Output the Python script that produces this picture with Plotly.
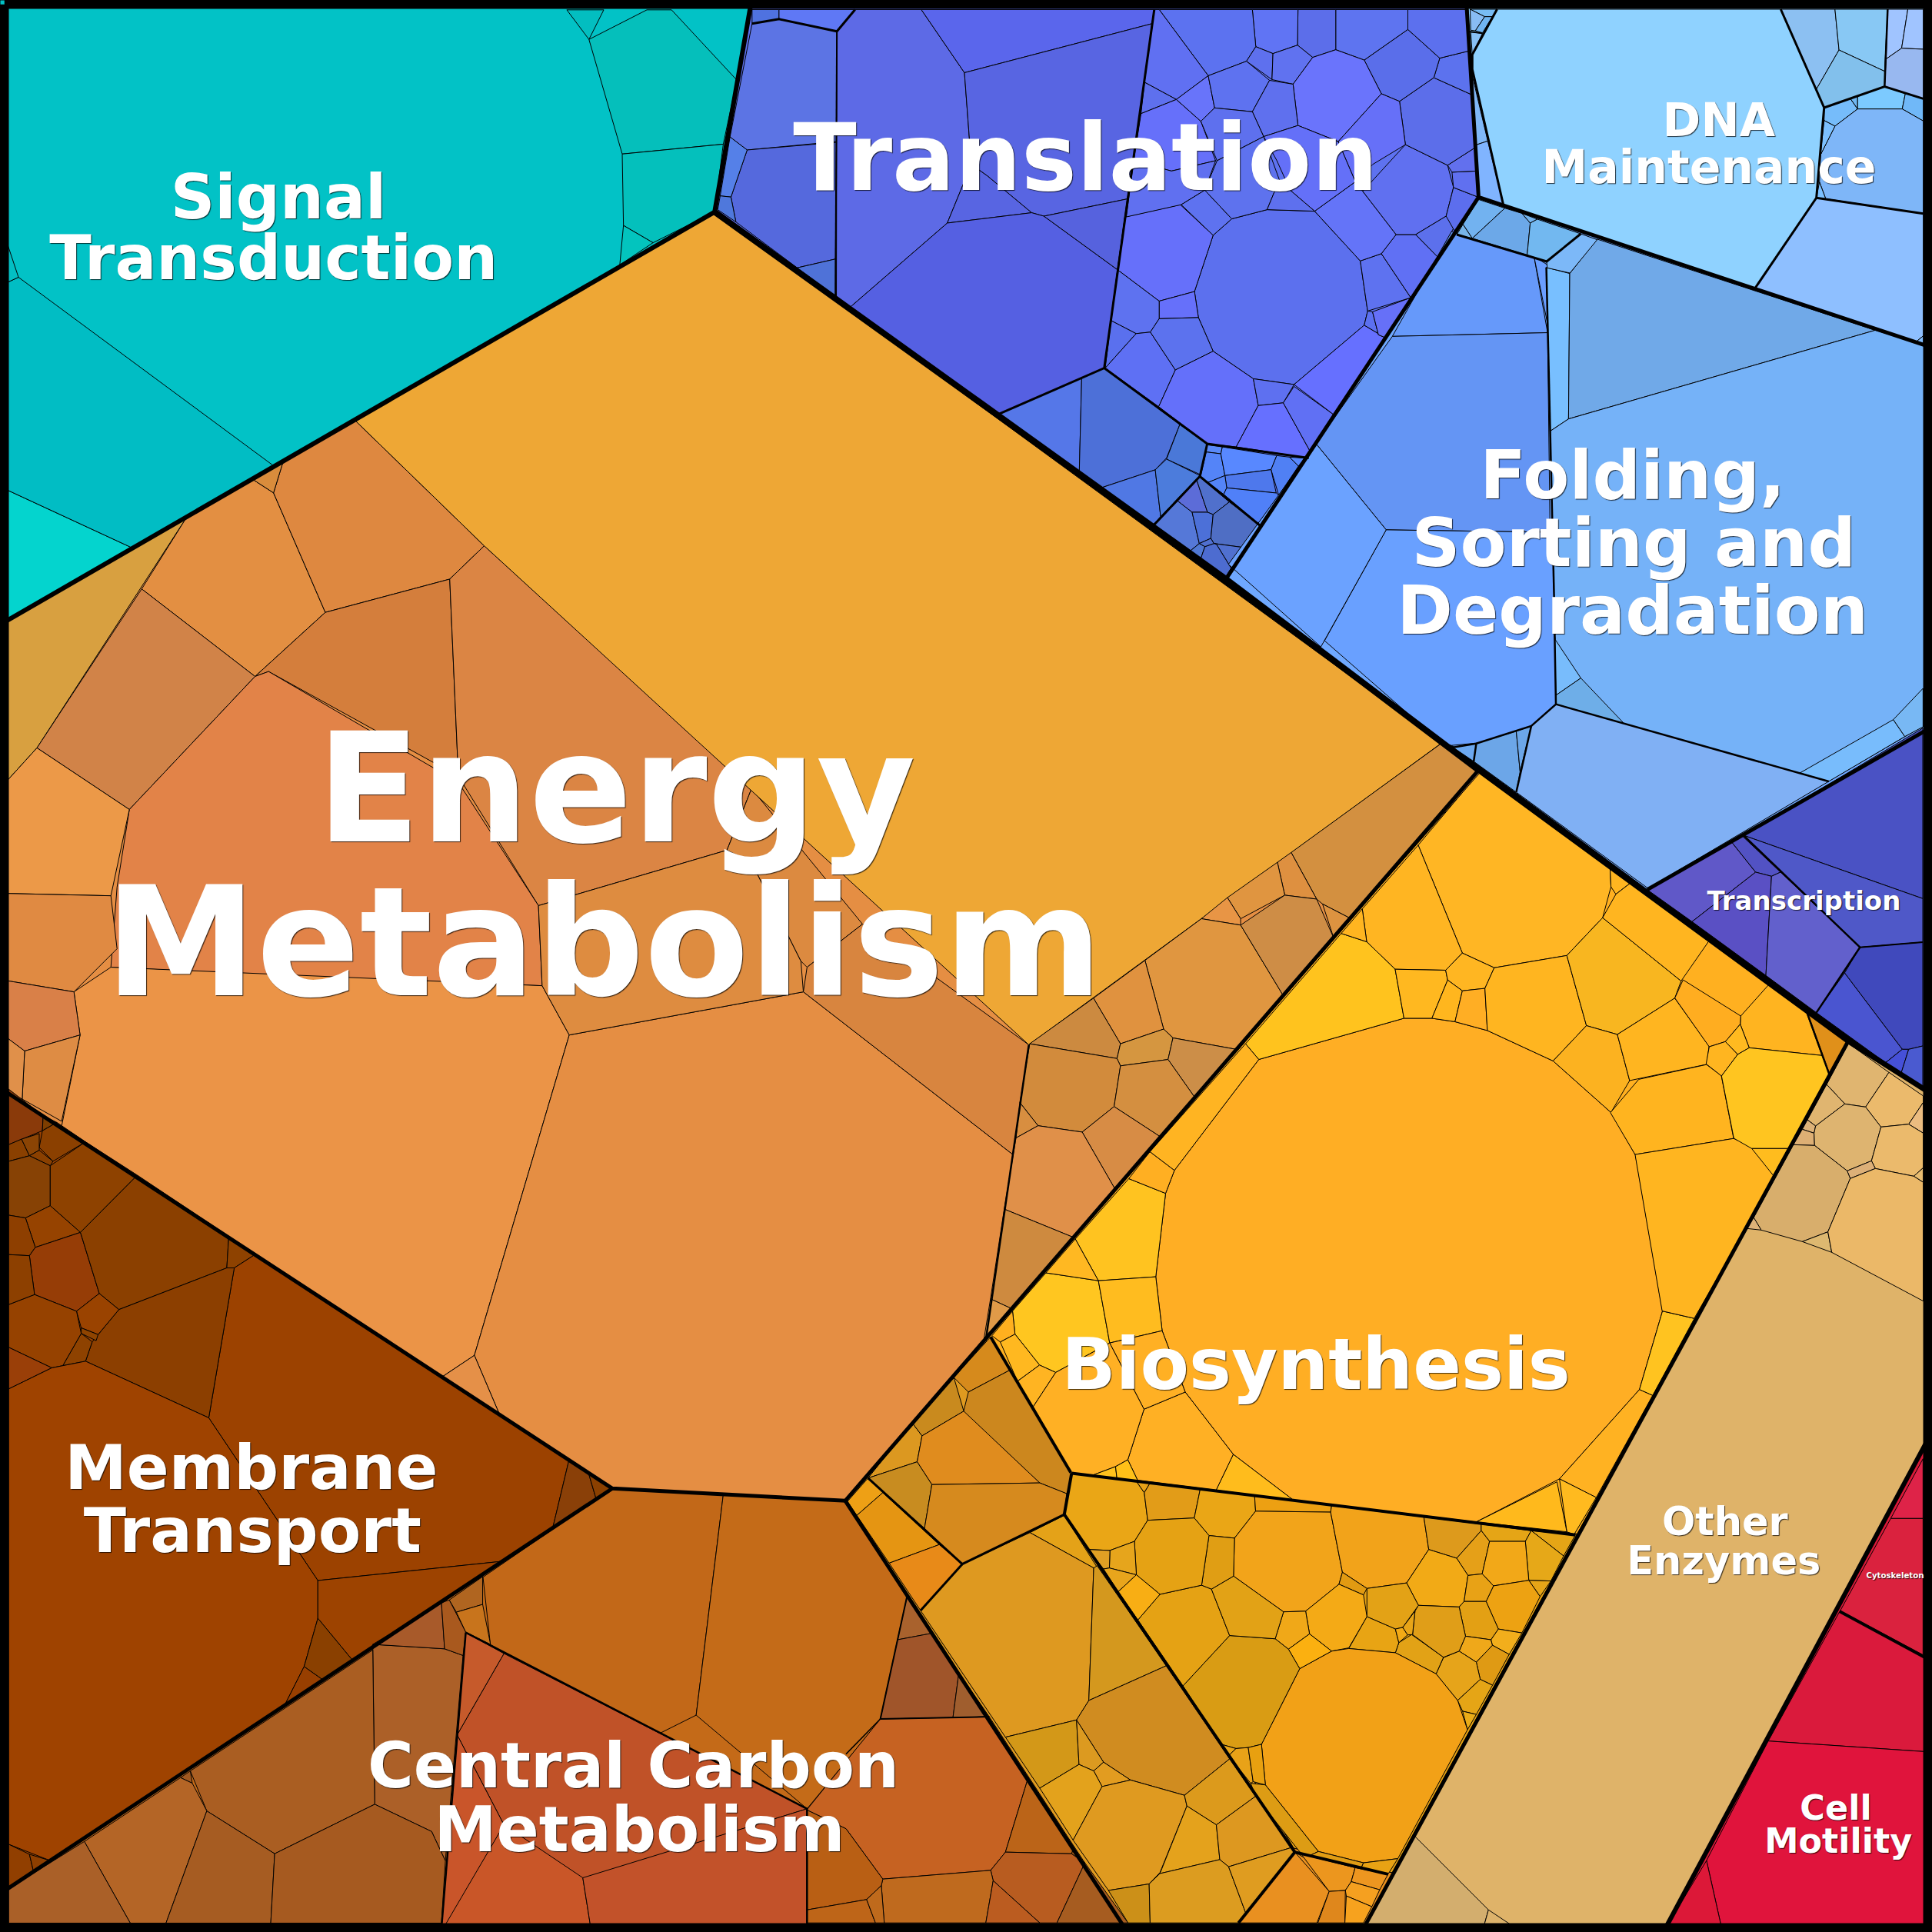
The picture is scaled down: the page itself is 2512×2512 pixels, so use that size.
import plotly.graph_objects as go

SIZE = 2512
# picture regions the vertices were read in: (left, top, width, height, drawn width, drawn height)
REGIONS = {
    "full": (0, 0, 2512, 2512, 1568, 1568),
    "z1": (930, 0, 1000, 780, 1568, 1568),
    "z2": (1880, 0, 632, 500, 1568, 1500),
    "z3": (1100, 1850, 1000, 662, 1568, 1568),
    "z4": (0, 1380, 800, 1132, 1568, 1568),
    "z5": (1240, 1000, 1000, 1000, 1568, 1568),
    "z6": (1300, 540, 450, 260, 1350, 780),
    "z7": (2240, 1300, 272, 400, 816, 1200),
    "z8": (2320, 1860, 192, 300, 576, 900),
    "z9": (1860, 780, 652, 400, 1568, 1200),
    "z10": (2120, 930, 392, 500, 1176, 1500),
    "z11": (2130, 1250, 300, 300, 900, 900),
}

base_regions = [
    ("#02C2C6", [0,0,610,0,580,172,0,507]),
    ("#5E72F0", [610,0,1190,0,1200,160,995,470,580,172]),
    ("#8FD2FF", [1190,0,1568,0,1568,282,1200,160]),
    ("#6FA8FF", [1200,160,1568,282,1568,590,1337,722,995,470]),
    ("#4C55C8", [1337,722,1568,590,1568,888]),
    ("#E58E43", [580,172,1200,625,686,1218,497,1208,0,883,0,507]),
    ("#FFB020", [1200,625,1500,845,1280,1245,870,1195,800,1088]),
    ("#DFB369", [1500,845,1568,888,1568,1162,1350,1568,1105,1568]),
    ("#DC1838", [1568,1162,1568,1568,1350,1568]),
    ("#9C4200", [0,883,497,1208,0,1537]),
    ("#C46A18", [497,1208,686,1218,915,1568,0,1568,0,1537]),
    ("#DF9A20", [686,1218,800,1088,870,1195,1050,1500,1005,1568,915,1568]),
    ("#E5A114", [870,1195,1280,1245,1130,1520,1050,1500]),
    ("#E99020", [1050,1500,1130,1520,1105,1568,1005,1568]),
]

signal_cells = [
    ("#05BFBB", [478,32,525,8,545,8,598,65,587,117,505,125]),
    ("#03BEC0", [460,8,490,8,478,32]),
    ("#04C0BC", [505,125,587,117,580,172,530,197,506,183]),
    ("#03C4BE", [506,183,530,197,503,215]),
    ("#04D4CE", [0,395,108,445,0,507]),
    ("#01BDC4", [0,232,15,225,222,378,108,445,0,395]),
    ("#03BFC3", [0,180,15,225,0,232]),
]

translation_cells = [
    ("#5C74E4", [75,62,130,50,248,82,247,370,65,392,30,358]),
    ("#5569DD", [65,392,247,372,245,677,167,700,42,580,32,515]),
    ("#4F72D8", [167,700,245,677,245,775]),
    ("#5580E8", [30,358,65,392,32,515,10,512]),
    ("#4F78DC", [10,512,32,515,42,580,5,548]),
    ("#4F72E0", [75,25,130,25,130,50,75,62]),
    ("#5F78F5", [130,25,285,25,248,82,130,50]),
    ("#5D6AE6", [285,25,420,25,508,190,522,430,473,583,275,803,247,775,248,82]),
    ("#5A66EC", [420,25,895,25,890,62,508,190]),
    ("#5865E2", [508,190,890,62,868,300,840,520,670,565,645,556,555,460,522,430]),
    ("#5865E2", [555,460,645,556,473,583,522,430]),
    ("#5560E2", [473,583,645,556,670,565,820,705,793,962,577,1083,275,803]),
    ("#5662DE", [670,565,840,520,820,705]),
    ("#5C70EE", [1015,615,1053,572,1125,548,1222,552,1315,682,1330,813,1323,850,1180,1005,1097,990,1015,918,985,830,977,762]),
    ("#6670FA", [820,705,835,567,948,535,1015,615,977,762,905,787]),
    ("#6670FA", [905,787,977,762,985,830,905,833]),
    ("#5E72F0", [820,705,905,787,905,833,887,868,858,872,807,838]),
    ("#5A70EE", [807,838,858,872,795,962]),
    ("#5E70F4", [795,962,858,872,887,868,938,967,904,1063]),
    ("#5C72EE", [887,868,905,833,985,830,1015,918,938,967]),
    ("#6470FA", [938,967,1015,918,1097,990,1107,1060,1062,1168,1003,1160,904,1063]),
    ("#5E70F0", [1097,990,1180,1005,1158,1053,1107,1060]),
    ("#6670FF", [1107,1060,1158,1053,1212,1178,1210,1197,1062,1168]),
    ("#6070F4", [1158,1053,1180,1010,1260,1083,1212,1178]),
    ("#6670FF", [1180,1005,1323,850,1365,882,1260,1083]),
    ("#5C70F0", [1323,850,1330,813,1340,815,1352,875,1365,882]),
    ("#6670F8", [1340,815,1418,778,1365,882,1352,875]),
    ("#5E72F0", [1315,682,1358,663,1418,778,1330,813]),
    ("#6070F4", [1358,663,1388,613,1428,613,1473,672,1418,778]),
    ("#6474F8", [1222,552,1305,475,1320,500,1388,613,1358,663,1315,682]),
    ("#6070F0", [1320,500,1407,378,1493,432,1505,490,1490,565,1428,613,1388,613]),
    ("#5C70EC", [1428,613,1490,565,1510,585,1473,672]),
    ("#5C6EEE", [1490,565,1505,490,1555,515,1510,610]),
    ("#6070F0", [1505,490,1502,450,1552,447,1555,515]),
    ("#6270EE", [1493,432,1550,385,1552,447,1502,450]),
    ("#5C6EEA", [1407,378,1395,265,1465,203,1543,248,1550,385,1493,432]),
    ("#5C72EE", [1465,203,1477,152,1537,133,1543,248]),
    ("#5A6EEA", [1412,77,1477,152,1465,203,1395,265,1358,245,1323,157]),
    ("#5C70EE", [1412,25,1535,25,1537,133,1477,152,1412,77]),
    ("#5E74F0", [1265,25,1412,25,1412,77,1323,157,1265,130]),
    ("#5C6EEA", [1188,25,1265,25,1265,130,1218,150,1187,118]),
    ("#6074F4", [1095,25,1188,25,1187,118,1137,140,1102,122]),
    ("#5C72F0", [905,25,1095,25,1102,122,1083,160,1005,198]),
    ("#6070F2", [895,25,905,25,1005,198,940,260,875,215]),
    ("#5E70EE", [875,215,940,260,868,297]),
    ("#6670FA", [868,297,940,260,990,317,1020,420,930,447,853,420]),
    ("#6874FA", [940,260,1005,198,1018,282,990,317]),
    ("#5E72F0", [1005,198,1083,160,1130,210,1095,292,1018,282]),
    ("#5E70EE", [1083,160,1102,122,1137,140,1135,208]),
    ("#6072F0", [1137,140,1187,118,1218,150,1178,220,1135,208]),
    ("#6A74FC", [1218,150,1265,130,1323,157,1358,245,1270,370,1188,328,1178,220]),
    ("#5F70EE", [1130,210,1178,220,1188,328,1118,357,1095,292]),
    ("#6670F8", [1358,245,1395,265,1407,378,1340,430,1305,475,1270,370]),
    ("#5E70EE", [990,317,1018,282,1095,292,1118,357,1023,420]),
    ("#6470F8", [1118,357,1188,328,1270,370,1305,475,1222,552,1172,497,1145,420]),
    ("#6070F0", [930,447,1020,420,998,497,950,535,838,567,853,420]),
    ("#5E72F0", [950,535,998,497,1053,572,1015,615]),
    ("#5E72EE", [998,497,1023,420,1118,357,1150,470,1125,548,1053,572]),
    ("#5E70EE", [1150,470,1172,497,1222,552,1125,548]),
    ("#5577E8", [577,1083,747,988,742,1240]),
    ("#4D70D8", [747,988,793,962,947,1110,920,1197,897,1228,782,1277,742,1240]),
    ("#4A78D8", [947,1110,1003,1160,988,1240,920,1200]),
    ("#5078E4", [782,1277,897,1228,908,1350,888,1378]),
    ("#4C7CDC", [897,1228,920,1200,988,1243,908,1350]),
]

translation_small_cells = [
    ("#5A8AF8", [808,115,868,123,862,150,805,143]),
    ("#5484F8", [805,143,862,150,878,235,812,262,783,238]),
    ("#5888FF", [868,123,1080,157,1058,212,878,235,862,150]),
    ("#5080F4", [1080,157,1130,163,1165,198,1088,312,1058,212]),
    ("#5888FF", [1130,163,1190,167,1165,198]),
    ("#4E78EC", [878,235,1058,212,1078,303,885,283]),
    ("#5484F8", [812,262,878,235,885,283,873,308]),
    ("#5080F8", [885,283,1078,303,1088,312,1015,428,873,308]),
    ("#5C6CD8", [692,333,767,250,810,378,750,378]),
    ("#5070CC", [767,250,778,240,895,338,832,387,810,378]),
    ("#5578D8", [592,432,692,333,750,378,778,500,733,537]),
    ("#4C70D8", [750,378,810,378,832,387,823,480,778,500]),
    ("#4F6EC4", [832,387,895,338,1015,428,955,516,835,500,823,480]),
    ("#5070D0", [835,500,955,516,902,596,845,503]),
    ("#5078D4", [733,537,778,500,800,512,780,570]),
    ("#4D6CD0", [780,570,800,512,835,500,845,503,902,596,875,640]),
    ("#5070D0", [778,500,823,480,835,500,800,512]),
]

dna_cells = [
    ("#8FD2FF", [165,36,1080,36,1195,348,1220,420,1195,772,995,1128,185,798,85,270,85,213]),
    ("#8CC0F2", [1080,36,1255,36,1268,195,1195,348]),
    ("#88C8F4", [1255,36,1425,36,1415,278,1268,195]),
    ("#82C0EC", [1268,195,1415,278,1415,338,1220,420,1195,348]),
    ("#A0C4FF", [1425,36,1490,36,1470,188,1420,230]),
    ("#A0C4FF", [1490,36,1540,36,1540,192,1470,188]),
    ("#98B8F0", [1420,230,1470,188,1540,192,1540,385,1415,338]),
    ("#76BCFA", [1220,420,1305,385,1328,425,1255,492,1220,470]),
    ("#70B8F4", [1305,385,1328,375,1328,425]),
    ("#7CCAFF", [1328,375,1415,338,1482,365,1472,425,1328,425]),
    ("#70B8F8", [1482,365,1540,385,1540,472,1472,425]),
    ("#7EB6F8", [1328,425,1472,425,1540,472,1540,833,1225,775,1205,710,1208,605,1255,492]),
    ("#7CC0FF", [1220,470,1255,492,1208,605]),
    ("#7CC0FF", [1205,710,1225,775,1195,772]),
    ("#8EBFFF", [1195,772,1540,833,1540,1310,1515,1335,995,1128]),
    ("#80BCFF", [1540,1310,1540,1350,1515,1335]),
    ("#80B8F8", [80,270,135,550,98,565]),
    ("#80B4FF", [98,565,135,550,185,798,105,770]),
    ("#78BCF4", [78,36,165,36,150,65,125,65]),
    ("#88BCF4", [78,36,125,65,95,120,80,118]),
    ("#70B4F0", [125,65,150,65,118,128,95,120]),
    ("#88C0F4", [80,125,118,130,85,213]),
]

folding_top_cells = [
    ("#72B2F0", [105,778,190,812,85,930,55,875]),
    ("#78B4E8", [55,875,85,930,35,915]),
    ("#6CA8E8", [190,812,245,832,272,870,262,995,85,930]),
    ("#74B4EE", [245,832,295,855,272,870]),
    ("#72B8F0", [295,855,435,912,325,1020,262,995,272,870]),
    ("#7CB8F8", [435,912,488,935,400,1065,327,1045,325,1020]),
]

folding_cells = [
    ("#6699FA", [1178,188,1245,208,1256,270,1130,273]),
    ("#6A9EFF", [1245,208,1256,215,1257,268]),
    ("#6495F4", [1130,273,1256,270,1258,432,1125,430,1068,360]),
    ("#69A0FF", [1125,430,1260,432,1262,515,1263,572,1232,600,1178,605,1170,603,1075,520]),
    ("#6BA2FF", [1068,360,1125,430,1072,525,997,458]),
    ("#78BFFF", [1255,217,1274,222,1273,340,1258,350]),
    ("#70A9E8", [1296,194,1522,268,1273,340,1274,222]),
    ("#75B2F8", [1258,350,1273,340,1522,268,1568,282,1568,585,1484,634,1263,572,1262,515]),
]

folding_low_cells = [
    ("#78BCFC", [390,155,470,305,392,372,388,135]),
    ("#6EAEE8", [392,372,470,305,605,482,392,407]),
    ("#78BCFC", [1155,675,1447,467,1483,533,1245,708]),
    ("#78B8F4", [1447,467,1540,345,1540,495,1483,533]),
    ("#80B0F4", [392,407,1245,708,680,1125,268,750,315,492]),
    ("#6CA6E8", [135,630,143,560,268,512,280,670,268,750]),
    ("#6CA6E8", [268,512,315,492,280,670]),
    ("#6CA8F0", [70,575,143,560,135,630,95,597]),
]

transcription_cells = [
    ("#4A52C4", [440,468,1140,50,1140,715]),
    ("#4F58C8", [440,468,1140,715,1140,885,895,905]),
    ("#6058C8", [65,680,395,495,488,612,240,805]),
    ("#5252C4", [395,495,435,470,585,612,550,628,488,612]),
    ("#5A50C4", [240,805,488,612,550,628,528,1015]),
    ("#6260CC", [550,628,585,612,895,905,725,1160,528,1015]),
    ("#4049BC", [895,905,1140,885,1140,1290,1085,1303,1060,1303,835,1005]),
    ("#4A55D0", [835,1005,1060,1303,995,1355,725,1160]),
    ("#4650D8", [995,1355,1060,1303,1085,1303,1055,1398]),
    ("#4A5AD0", [1085,1303,1140,1290,1140,1460,1055,1398]),
]

enzyme_top_cells = [
    ("#E0B570", [490,170,648,283,557,418,476,406,405,330]),
    ("#EBBA6C", [648,283,782,375,782,400,725,485,617,496,557,418]),
    ("#EBBC80", [782,400,782,520,725,485]),
    ("#E0B570", [405,330,476,406,362,492,330,468]),
    ("#DDB278", [330,468,362,492,356,520,310,505]),
    ("#DDAF74", [310,505,356,520,358,568,275,565]),
    ("#DEB470", [476,406,557,418,617,496,580,628,485,667,358,568,356,520,362,492]),
    ("#EBBA6C", [617,496,725,485,782,520,782,655,745,688,595,658,580,628]),
    ("#E8BC70", [745,688,782,655,782,712]),
    ("#DDB078", [580,628,595,658,497,697,485,667]),
    ("#D8AE6C", [275,565,358,568,485,667,497,697,410,905,310,943,150,898,120,850]),
    ("#DDB278", [120,848,150,898,95,892]),
    ("#DDB870", [310,943,410,905,425,985]),
    ("#EBB868", [497,697,595,658,745,688,782,712,782,1175,425,985,410,905]),
]

enzyme_low_cells = [
    ("#D3AE6E", [1105,1568,1148,1490,1208,1550,1203,1568]),
    ("#DDB36C", [1208,1550,1235,1568,1203,1568]),
]

cytoskeleton_cells = [
    ("#DE2348", [541,110,541,343,415,343]),
    ("#DA223E", [415,343,541,343,541,875,218,703]),
]

motility_cells = [
    ("#DA1A3C", [1493,1308,1568,1347,1568,1422,1435,1413]),
    ("#E0143C", [1435,1413,1568,1422,1568,1568,1398,1568,1385,1510]),
    ("#DC1838", [1385,1510,1398,1568,1350,1568]),
]

biosynthesis_cells = [
    ("#FFAE24", [622,592,918,508,975,508,1022,515,1088,533,1222,595,1340,700,1390,787,1445,1105,1398,1265,1235,1447,1065,1535,692,1490,570,1397,472,1270,425,1145,412,1035,432,865,450,818]),
    ("#FFB624", [947,155,1073,5,1338,200,1340,240,1323,303,1250,380,1102,405,1037,375]),
    ("#FFB522", [833,285,947,155,1037,375,1003,410,900,408,842,352]),
    ("#FFC31E", [790,335,842,352,900,408,918,508,622,592,595,560]),
    ("#FFB520", [833,285,842,352,790,335]),
    ("#FFB820", [900,408,1003,410,1007,430,975,508,918,508]),
    ("#FFB622", [1037,375,1102,405,1083,447,1037,452,1007,430,1003,410]),
    ("#FFB61E", [1007,430,1037,452,1022,515,975,508]),
    ("#FFAE24", [1037,452,1083,447,1088,533,1022,515]),
    ("#FFB520", [1102,405,1250,380,1290,523,1222,595,1088,533,1083,447]),
    ("#F8B620", [1250,380,1323,303,1483,432,1470,467,1353,541,1290,523]),
    ("#FCB220", [1290,523,1353,541,1378,635,1340,700,1222,595]),
    ("#FFB520", [1353,541,1470,467,1540,565,1535,602,1378,635]),
    ("#FFB520", [1338,200,1380,232,1350,255,1340,240]),
    ("#FFB520", [1380,232,1540,350,1483,432,1323,303,1350,255]),
    ("#FFC320", [1445,1105,1510,1120,1425,1277,1398,1265]),
    ("#FFB222", [1398,1265,1425,1277,1310,1485,1235,1447]),
    ("#FFBA1F", [1235,1447,1310,1485,1265,1560,1250,1555]),
    ("#FFB91C", [1065,1535,1230,1453,1250,1555]),
    ("#FFBC1C", [535,1470,570,1397,692,1490]),
    ("#FFB024", [388,1305,472,1270,570,1397,535,1470,375,1450,355,1408]),
    ("#FFC320", [357,835,432,865,412,1035,295,1043,248,958]),
    ("#FFAF22", [400,780,450,818,432,865,357,835]),
    ("#FFB422", [595,560,622,592,450,818,400,780]),
    ("#FFC620", [188,1027,295,1043,318,1170,208,1230,175,1215,125,1152,120,1105]),
    ("#FFB822", [188,1027,248,958,295,1043]),
    ("#FFBC1F", [295,1043,412,1035,425,1145,318,1170]),
    ("#FFB01F", [120,1105,125,1152,95,1168,78,1155]),
    ("#FFB820", [95,1168,125,1152,175,1215,130,1248]),
    ("#FFB422", [130,1248,175,1215,208,1230,162,1300]),
    ("#FFB024", [318,1170,425,1145,472,1270,388,1305]),
    ("#FFB024", [208,1230,318,1170,388,1305,355,1408,330,1422,282,1440,240,1435,162,1300]),
    ("#FFC21C", [282,1440,330,1422,333,1448,240,1435]),
    ("#FFC018", [330,1422,355,1408,375,1450,333,1448]),
]

biosynthesis_right_cells = [
    ("#FFB41F", [1330,876,1385,864,1397,873,1407,924,1327,937,1307,903]),
    ("#FFB520", [1327,937,1407,924,1425,932,1441,955,1375,1070,1349,1064]),
]

biosynthesis_corner_cells = [
    ("#FFB420", [510,90,655,195,717,367,433,337,398,245,400,213]),
    ("#FFAD20", [175,72,400,213,398,245,340,313,277,333,143,143]),
    ("#FFBA20", [398,245,433,337,388,363,340,313]),
    ("#FFB520", [340,313,388,363,325,447,265,400,277,333]),
    ("#FFC520", [433,337,717,367,745,437,585,730,443,730,373,690,325,447,388,363]),
    ("#FFBC1E", [443,730,585,730,527,835]),
]

triangle_cells = [
    ("#E0901A", [330,50,485,165,415,285]),
]

energy_cells = [
    ("#D8A040", [0,507,152,419,30,607,0,640]),
    ("#E38F42", [152,419,205,389,222,400,264,497,207,549,115,478]),
    ("#DE8840", [222,400,230,374,288,341,393,443,365,470,264,497]),
    ("#D98C3C", [205,389,230,374,222,400]),
    ("#D18348", [115,478,207,549,105,657,30,607]),
    ("#D47E3C", [264,497,365,470,372,630,218,545,207,549]),
    ("#DB8544", [365,470,393,443,610,640,590,690,437,735,372,630]),
    ("#E28348", [207,549,218,545,372,635,437,735,440,800,300,795,90,785,95,720,105,657]),
    ("#EB9447", [50,914,65,840,60,805,90,785,440,800,462,840,385,1100,358,1118]),
    ("#E58E43", [462,840,652,805,822,937,800,1088,686,1218,497,1208,405,1147,385,1100]),
    ("#E59048", [385,1100,405,1147,358,1118]),
    ("#DE8C40", [437,735,590,690,610,700,650,780,652,805,462,840,440,800]),
    ("#DC8A40", [610,640,700,750,655,785,650,780,610,700,590,690]),
    ("#D8853F", [652,805,655,785,700,750,835,848,822,937]),
    ("#EC9948", [30,607,105,657,90,727,0,725,0,640]),
    ("#E08A42", [0,725,90,727,95,770,60,805,0,795]),
    ("#D98048", [0,795,60,805,65,840,20,853,0,838]),
    ("#DE8C44", [20,853,65,840,50,910,18,892]),
    ("#E0904A", [0,838,20,853,18,892,0,883]),
    ("#EEA735", [288,341,580,172,1170,603,835,848,393,443]),
]

energy_right_cells = [
    ("#D39040", [688,170,995,-53,1075,5,810,305,752,275,740,265]),
    ("#DE9040", [660,190,688,170,740,265,675,257]),
    ("#E09540", [558,262,660,190,675,257,585,305]),
    ("#E89545", [505,305,558,262,585,305,585,318]),
    ("#E09640", [390,390,505,305,585,318,672,462,580,572,447,548,428,530]),
    ("#E0923F", [285,467,390,390,428,530,340,560]),
    ("#CC8A40", [155,560,285,467,340,560,333,590]),
    ("#CE8D46", [585,318,675,257,740,265,775,345,672,462]),
    ("#DD9340", [752,275,810,305,775,345]),
    ("#D59640", [428,530,447,548,437,592,340,605,333,590,340,560]),
    ("#CC8E48", [447,548,580,572,492,670,437,592]),
    ("#D28B3C", [155,560,333,590,340,605,327,688,262,740,172,727,135,680]),
    ("#D48F40", [340,605,437,592,492,670,422,750,327,688]),
    ("#D88E40", [135,680,172,727,127,752]),
    ("#D78C45", [262,740,327,688,422,750,330,858]),
    ("#E09049", [127,752,172,727,262,740,330,858,245,955,103,897]),
    ("#CE8A3F", [103,897,245,955,118,1100,75,1080]),
    ("#E09A48", [75,1080,118,1100,62,1160]),
]

amino_top_cells = [
    ("#D68A1C", [0,1240,75,1158,115,1225,30,1270]),
    ("#CC871E", [30,1270,115,1225,240,1435,232,1478,175,1455,20,1310]),
]

membrane_cells = [
    ("#8A3A0A", [22,50,110,98,108,125,22,150]),
    ("#7E3E00", [110,98,145,110,108,125]),
    ("#8B4000", [108,125,145,110,218,145,135,180,100,155]),
    ("#8A4000", [22,150,55,140,75,170,22,180]),
    ("#8B4404", [55,140,100,130,100,160,75,170]),
    ("#8A4000", [100,160,135,180,128,188,75,170]),
    ("#874205", [22,180,75,170,128,188,128,260,65,282,22,277]),
    ("#8E4200", [128,188,218,145,350,205,205,308,128,260]),
    ("#964300", [65,282,128,260,205,308,90,335]),
    ("#8E3F00", [22,277,65,282,90,335,75,350,22,348]),
    ("#963D06", [90,335,205,308,253,418,195,450,88,420,75,350]),
    ("#8B4000", [205,308,350,205,583,315,578,372,303,447,253,418]),
    ("#8E4200", [583,315,652,347,597,372,578,372]),
    ("#9C4200", [597,372,652,347,1450,718,1408,842,1285,900,810,935,532,642]),
    ("#8C3F00", [303,447,578,372,597,372,532,642,218,540,235,505]),
    ("#9A4300", [195,450,253,418,303,447,250,492,207,480]),
    ("#8F4400", [207,480,250,492,245,503,207,490]),
    ("#8E4200", [207,490,235,505,218,540,160,548]),
    ("#964200", [22,438,88,420,195,450,207,490,160,548,132,552,22,515]),
    ("#8D4000", [22,348,75,350,88,420,22,438]),
    ("#9A3F08", [22,515,132,552,22,590]),
    ("#9F4300", [22,590,132,552,218,540,532,642,810,935,810,1003,775,1090,725,1160,130,1440,22,1410]),
    ("#9D4300", [810,935,1285,900,900,1080,810,1003]),
    ("#8A4000", [810,1003,900,1080,825,1115,775,1090]),
    ("#983F00", [775,1090,825,1115,725,1160]),
    ("#8A4008", [1450,718,1500,742,1520,790,1408,842]),
    ("#8B4000", [1500,742,1565,770,1520,790]),
    ("#913F00", [22,1410,75,1428,85,1458,22,1490]),
    ("#8E3F00", [75,1428,130,1440,85,1458]),
]

carbon_left_cells = [
    ("#AC6028", [950,1050,1133,1058,1180,1070,1135,1440,1100,1387,955,1338]),
    ("#A85A2A", [950,1050,1125,975,1133,1058]),
    ("#A9591E", [1125,975,1145,970,1187,1028,1180,1070,1133,1058]),
    ("#B06520", [1145,970,1230,928,1230,978,1163,992]),
    ("#C8741C", [1163,992,1230,978,1250,1050,1187,1028]),
    ("#AA5E22", [485,1278,950,1060,955,1338,700,1427,527,1350]),
    ("#A05820", [460,1290,485,1278,490,1300]),
    ("#B46526", [215,1405,460,1290,490,1300,527,1350,423,1552,332,1552]),
    ("#AA6028", [22,1490,215,1405,332,1552,22,1552]),
    ("#A65C22", [527,1350,700,1427,690,1552,423,1552]),
    ("#A65A20", [700,1427,955,1338,1100,1387,1135,1440,1125,1552,690,1552]),
]

carbon_mid_cells = [
    ("#C26818", [392,1280,497,1208,587,1213,565,1392,535,1407,398,1335]),
    ("#C46B18", [587,1213,686,1218,737,1298,715,1395,655,1468,565,1392]),
    ("#C05228", [409,1342,655,1468,473,1525,409,1481,371,1408]),
    ("#C65A2B", [378,1325,409,1342,371,1408]),
    ("#C9552A", [371,1408,409,1481,363,1561,358,1568]),
    ("#C95628", [409,1481,473,1524,480,1568,358,1568]),
    ("#C2522A", [473,1524,655,1468,655,1568,480,1568]),
]

carbon_right_cells = [
    ("#A9622D", [125,530,175,648,105,668]),
    ("#A0552A", [105,668,175,648,230,770,218,908,70,912]),
    ("#A05E2E", [230,770,292,905,218,908]),
    ("#C66222", [70,912,292,905,372,1090,325,1322,295,1378,75,1405,0,1250,-80,1192]),
    ("#BB6418", [372,1090,465,1305,460,1327,325,1322]),
    ("#B85C20", [325,1322,460,1327,487,1355,430,1540,395,1540,300,1410,295,1378]),
    ("#B06018", [460,1327,465,1305,487,1355]),
    ("#A65C20", [487,1355,575,1540,430,1540]),
    ("#BF6A1E", [75,1405,295,1378,300,1410,285,1540,78,1540,72,1425]),
    ("#BB5C20", [300,1410,395,1540,285,1540]),
    ("#B95F14", [-80,1192,0,1250,75,1405,72,1425,42,1468,-80,1500]),
    ("#BE6518", [-80,1500,42,1468,60,1540,-80,1540]),
    ("#BF6A1C", [42,1468,72,1425,78,1540,60,1540]),
]

amino_cells = [
    ("#EEA015", [45,170,75,215,22,285,3,242]),
    ("#E59512", [75,215,190,375,88,432,22,285]),
    ("#E88A18", [88,432,190,375,237,435,152,578]),
    ("#DC9820", [45,170,135,0,155,40,145,120]),
    ("#C98A1E", [135,0,155,40,240,-36,220,-139]),
    ("#E08C1E", [155,40,240,-36,395,185,175,190,145,120]),
    ("#C88C20", [45,170,145,120,175,190,160,325]),
    ("#D68A1E", [175,190,395,185,450,218,445,282,237,435,160,325]),
    ("#E4A218", [375,338,445,285,512,445,505,447]),
    ("#DE9920", [237,435,375,338,505,447,495,855,470,915,325,968,152,578]),
    ("#D4981E", [505,447,512,440,653,748,495,855]),
    ("#D08C20", [495,855,653,748,782,1035,690,1147,580,1100,525,1045,470,915]),
    ("#D39818", [325,968,470,915,475,1052,395,1125]),
    ("#DC9A20", [470,915,525,1045,505,1072,475,1052]),
    ("#E29C20", [525,1045,580,1100,522,1120,505,1072]),
    ("#E3A21C", [395,1125,475,1052,505,1072,522,1120,463,1285]),
    ("#DF9A20", [463,1285,522,1120,580,1100,690,1147,695,1180,640,1385,618,1420,535,1440]),
    ("#DC9A1C", [690,1147,782,1035,835,1150,755,1238,695,1180]),
    ("#E4A21C", [695,1180,755,1238,762,1345,640,1388]),
    ("#DD9820", [755,1238,835,1150,908,1308,780,1367,762,1345]),
    ("#CC9018", [535,1440,618,1420,620,1540,575,1540]),
    ("#DC9C20", [618,1420,640,1388,762,1345,780,1367,815,1510,800,1540,620,1540]),
    ("#DF9C20", [780,1367,908,1308,915,1322,815,1510]),
]

cofactor_cells = [
    ("#EAA616", [460,155,592,180,608,215,615,300,588,365,538,393,495,390,445,282]),
    ("#E8A218", [592,180,620,185,608,215]),
    ("#E29C18", [620,185,722,205,710,293,615,300,608,215]),
    ("#EAA616", [722,205,833,225,835,272,792,355,740,347,710,293]),
    ("#EDA012", [833,225,990,255,988,275,835,272]),
    ("#F2A41A", [835,272,988,275,1012,460,1005,497,937,580,892,582,790,472,792,355]),
    ("#F2A31A", [990,255,1178,290,1188,390,1143,493,1062,510,1012,460,988,275]),
    ("#DD9A1C", [1178,290,1295,312,1295,332,1245,417,1188,390]),
    ("#E5A516", [1295,312,1397,332,1385,365,1312,365,1295,332]),
    ("#E5A516", [1397,332,1487,345,1463,410]),
    ("#E6A818", [1385,365,1397,332,1463,410,1437,487,1392,485]),
    ("#E5A018", [1245,417,1295,332,1312,365,1297,465,1268,470]),
    ("#F2A818", [1312,365,1385,365,1392,485,1320,502,1297,465]),
    ("#F2AA16", [1188,390,1245,417,1268,470,1260,550,1250,567,1167,562,1143,493]),
    ("#E5A518", [1392,485,1437,487,1415,535]),
    ("#EDA212", [1320,502,1392,485,1415,535,1378,647,1330,635,1305,550]),
    ("#E8A216", [1268,470,1297,465,1320,502,1305,550,1260,550]),
    ("#E3A014", [1260,550,1305,550,1330,635,1315,668,1263,657,1250,567]),
    ("#EFA81A", [1263,657,1315,668,1318,685,1285,737,1250,703]),
    ("#F2AE1C", [1330,635,1378,647,1352,713,1318,685,1315,668]),
    ("#DF9A14", [1318,685,1352,713,1318,808,1293,790,1285,737]),
    ("#E6A41A", [1250,703,1285,737,1293,790,1247,855,1203,773,1218,723]),
    ("#E5A516", [1293,790,1318,808,1285,898,1257,888,1247,855]),
    ("#EAAC18", [1257,888,1285,898,1267,945]),
    ("#E2A216", [1153,652,1218,722,1203,773,1120,708,1127,677]),
    ("#E09E18", [1167,562,1250,567,1263,657,1250,703,1218,722,1155,652,1160,580]),
    ("#E3A216", [1062,510,1143,493,1167,562,1135,630,1120,635,1062,597]),
    ("#E19A12", [1012,460,1062,510,1055,530,1005,497]),
    ("#F4AA16", [1005,497,1055,530,1062,597,1025,693,990,703,945,650,937,580]),
    ("#E8A414", [1062,597,1120,635,1127,677,1120,708,1025,695]),
    ("#F2AA16", [1120,635,1135,630,1145,653,1127,677]),
    ("#E8A518", [1135,630,1160,580,1155,652,1145,653]),
    ("#F2A117", [925,757,990,703,1025,695,1120,708,1203,773,1247,855,1267,945,1125,1342,1055,1355,963,1320,855,1115,847,990]),
    ("#F0A818", [892,582,937,580,945,650,902,697,875,665]),
    ("#FBB010", [902,697,945,650,990,703,925,757]),
    ("#D99C14", [782,655,875,665,902,697,925,757,847,990,820,1000,795,1003,765,990,687,810]),
    ("#E5A214", [640,528,725,500,745,512,782,655,687,810,595,607]),
    ("#E2A216", [745,512,790,472,892,582,875,665,782,655]),
    ("#E09E14", [725,500,740,347,792,355,790,472,745,512]),
    ("#E5A214", [588,365,615,300,710,293,740,347,725,500,640,528,592,468]),
    ("#E6A51C", [538,393,588,365,592,468,537,447]),
    ("#E0A024", [495,390,538,393,537,447,525,450]),
    ("#E8A51C", [525,450,537,447,592,468,555,520]),
    ("#F8AE14", [555,520,592,468,640,528,595,607]),
    ("#E8A518", [765,990,795,1003,780,1025]),
    ("#E8A218", [795,1003,820,1000,830,1105,825,1110,780,1025]),
    ("#E8A010", [820,1000,847,990,855,1115,830,1105]),
    ("#DD9C14", [825,1110,855,1115,963,1320,935,1340,835,1150]),
    ("#E09C14", [963,1320,1055,1355,1050,1372,915,1322,935,1340]),
    ("#E8A214", [1055,1355,1125,1342,1105,1390,1050,1372]),
    ("#E99020", [915,1322,985,1443,960,1540,800,1540]),
    ("#EC961E", [928,1328,1038,1370,1030,1413,1018,1440,985,1443]),
    ("#ED9620", [1038,1370,1105,1390,1088,1438,1030,1413]),
    ("#F5A020", [1030,1413,1088,1438,1072,1490,1020,1457,1018,1440]),
    ("#DF871C", [985,1443,1018,1440,1017,1540,962,1540]),
    ("#F7A21E", [1020,1457,1072,1490,1055,1540,1017,1540]),
]

cell_layers = [
    ("full", signal_cells), ("z1", translation_cells), ("z6", translation_small_cells),
    ("z2", dna_cells), ("full", folding_cells), ("z2", folding_top_cells), ("z9", folding_low_cells),
    ("z10", transcription_cells), ("z7", enzyme_top_cells), ("full", enzyme_low_cells),
    ("full", motility_cells), ("z8", cytoskeleton_cells),
    ("z5", biosynthesis_cells), ("full", biosynthesis_right_cells), ("z11", biosynthesis_corner_cells),
    ("z7", triangle_cells),
    ("full", energy_cells), ("z5", energy_right_cells), ("z4", membrane_cells),
    ("full", carbon_mid_cells), ("z4", carbon_left_cells), ("z3", carbon_right_cells),
    ("z5", amino_top_cells), ("z3", amino_cells), ("z3", cofactor_cells),
]

# (region, stroke width, vertices)
boundary_lines = [
    ("full", 6, [610,0,580,172,0,507]),
    ("full", 8, [580,172,995,470,1200,625]),
    ("full", 7, [1200,625,1500,845,1568,888]),
    ("full", 5, [1200,160,995,470]),
    ("full", 5, [1190,0,1200,160,1568,282]),
    ("full", 5, [1337,722,1568,590]),
    ("full", 5, [1200,625,686,1218,497,1208,0,883]),
    ("full", 5, [497,1208,0,1537]),
    ("full", 5, [686,1218,915,1568]),
    ("full", 5, [1500,845,1105,1568]),
    ("full", 6, [1568,1162,1350,1568]),
    ("z8", 4, [215,705,576,900]),
    ("full", 2.5, [835,848,800,1088]),
    ("full", 2.5, [378,1325,358,1568]),
    ("full", 2.5, [378,1325,655,1468,655,1568]),
    ("full", 2.5, [1255,217,1258,350,1262,515]),
    ("full", 4, [804,1085,869,1195]),
    ("z1", 3, [75,62,130,50,248,82,285,25]),
    ("z1", 2, [248,82,245,775]),
    ("z1", 3, [895,25,793,962,577,1083]),
    ("z1", 3, [793,962,1003,1160,1210,1197]),
    ("z1", 3, [1003,1160,988,1245,890,1378]),
    ("z1", 3, [988,1245,1110,1373]),
    ("z2", 3, [165,36,85,213,85,270,185,798]),
    ("z2", 3, [1080,36,1195,348,1220,420,1195,772,995,1128]),
    ("z2", 3, [1220,420,1415,338,1540,385]),
    ("z2", 3, [1195,772,1540,833]),
    ("z2", 2.5, [1415,338,1425,36]),
    ("z2", 3, [35,915,325,1020,435,912]),
    ("z2", 2, [70,122,118,130]),
    ("z9", 2.5, [388,135,392,407,315,492,143,560,70,575]),
    ("z9", 2.5, [392,407,1245,708]),
    ("z9", 2.5, [315,492,268,750]),
    ("z9", 2.5, [143,560,135,630]),
    ("z10", 2.5, [440,468,895,905,725,1160]),
    ("z10", 2, [895,905,1140,885]),
    ("z7", 2.5, [325,40,415,290]),
    ("z3", 3, [45,170,237,435,445,282]),
    ("z3", 3, [237,435,152,578]),
    ("z3", 4, [460,155,1487,345]),
    ("z3", 4, [460,155,445,282,915,1322,800,1540]),
    ("z3", 4, [915,1322,1105,1390]),
    ("z3", 2, [125,530,70,912,292,905]),
    ("z3", 1.5, [0,1020,70,912]),
]

label_text = ["Energy", "Metabolism", "Translation", "Signal", "Transduction", "DNA", "Maintenance",
              "Folding,", "Sorting and", "Degradation", "Transcription", "Biosynthesis", "Membrane",
              "Transport", "Central Carbon", "Metabolism", "Other", "Enzymes", "Cell", "Motility",
              "Cytoskeleton"]
label_x = [500, 490, 881, 226, 222, 1395, 1387, 1325, 1326, 1325, 1464, 1068, 204, 205, 514, 519, 1400, 1399, 1490, 1492, 1538]
label_y = [652, 777, 135, 165, 214, 101, 139, 391, 446, 501, 733, 1113, 1196, 1247, 1438, 1490, 1238, 1270, 1470, 1497, 1279]
label_size = [198, 198, 121, 80, 80, 60, 60, 87.5, 87.5, 87.5, 34, 92.5, 81, 81, 81.5, 81.5, 51, 51, 44.5, 44.5, 10.2]
FRAME = 11.5


def to_px(region, flat):
    left, top, w, h, dw, dh = REGIONS[region]
    xs = [left + u * w / dw for u in flat[0::2]]
    ys = [top + v * h / dh for v in flat[1::2]]
    return xs, ys


fig = go.Figure()


def add_cell(region, color, flat):
    xs, ys = to_px(region, flat)
    fig.add_trace(go.Scatter(x=xs + xs[:1], y=ys + ys[:1], mode="lines", fill="toself",
                             fillcolor=color, line=dict(color="#000000", width=1),
                             hoverinfo="skip", showlegend=False))


for color, flat in base_regions:
    add_cell("full", color, flat)
for region, cells in cell_layers:
    for color, flat in cells:
        add_cell(region, color, flat)

for region, width, flat in boundary_lines:
    xs, ys = to_px(region, flat)
    fig.add_trace(go.Scatter(x=xs, y=ys, mode="lines", line=dict(color="#000000", width=width),
                             hoverinfo="skip", showlegend=False))

fx = [FRAME / 2, SIZE - FRAME / 2, SIZE - FRAME / 2, FRAME / 2, FRAME / 2]
fy = [FRAME / 2, FRAME / 2, SIZE - FRAME / 2, SIZE - FRAME / 2, FRAME / 2]
fig.add_trace(go.Scatter(x=fx, y=fy, mode="lines", line=dict(color="#000000", width=FRAME),
                         hoverinfo="skip", showlegend=False))

lx, ly = to_px("full", [c for pair in zip(label_x, label_y) for c in pair])
fig.add_trace(go.Scatter(
    x=lx, y=ly, mode="text", text=label_text, textposition="middle center",
    textfont=dict(family="DejaVu Sans", size=[s for s in label_size], color="#FFFFFF", weight="bold",
                  shadow="1px 1px 1px rgba(0,0,0,0.75)"),
    hoverinfo="skip", showlegend=False))

fig.update_layout(
    width=SIZE, height=SIZE, margin=dict(l=0, r=0, t=0, b=0),
    paper_bgcolor="#000000", plot_bgcolor="#000000", showlegend=False,
    xaxis=dict(range=[0, SIZE], visible=False, fixedrange=True),
    yaxis=dict(range=[SIZE, 0], visible=False, fixedrange=True),
)
fig.write_html("out.html", post_script="document.body.style.margin='0';",
               config=dict(displayModeBar=False))
